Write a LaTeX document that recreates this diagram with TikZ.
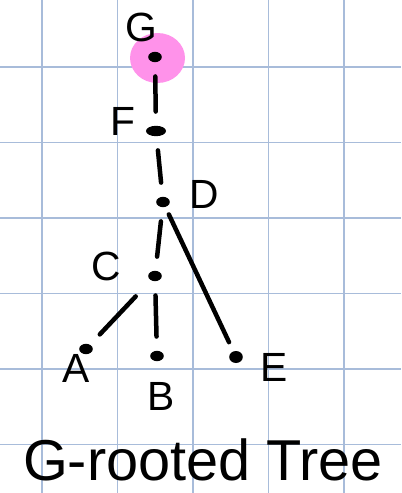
\documentclass[tikz,border=0pt]{standalone}
\usepackage{fontspec}
\setmainfont{Liberation Sans}
\usepackage{xcolor}
\usetikzlibrary{shapes.geometric}

\definecolor{gridblue}{RGB}{168,188,218}
\definecolor{rootpink}{RGB}{255,146,234}

\tikzset{
    vertex/.style={ellipse, fill=black, inner sep=0pt, minimum width=0.34cm, minimum height=0.26cm},
    edge/.style={line width=3.2pt, line cap=round, shorten <=0.35cm, shorten >=0.35cm},
    lbl/.style={font=\fontsize{29}{32}\selectfont}
}

\begin{document}
\begin{tikzpicture}[x=0.025cm, y=-0.025cm]
    \useasboundingbox (0,0) rectangle (401,493);

    % --- GRID ---
    \foreach \gx in {42,117.5,193,268.5,344}
        \draw[gridblue, line width=0.9pt] (\gx,0) -- (\gx,493);
    \foreach \gy in {67,142.5,218,293.5,369,444.5}
        \draw[gridblue, line width=0.9pt] (0,\gy) -- (401,\gy);

    % Root highlight
    \fill[rootpink] (157.5,58) ellipse (27.5 and 25);

    % --- VERTICES ---
    \node[vertex] (g) at (155,57) {};
    \node[vertex, minimum width=0.5cm] (f) at (156,131) {};
    \node[vertex] (d) at (163,202) {};
    \node[vertex] (c) at (155,276) {};
    \node[vertex] (a) at (86,349) {};
    \node[vertex] (b) at (157,356) {};
    \node[vertex, minimum height=0.3cm] (e) at (236,357) {};

    % --- EDGES ---
    \draw[edge] (g) -- (f);
    \draw[edge] (f) -- (d);
    \draw[edge] (d) -- (c);
    \draw[edge] (c) -- (b);
    \draw[edge, shorten <=0.55cm] (c) -- (a);
    \draw[edge, shorten <=0.2cm, shorten >=0.25cm] (d) -- (e);

    % --- LABELS ---
    \node[lbl] (g-lbl) at (141,27) {G};
    \node[lbl] (f-lbl) at (123,121) {F};
    \node[lbl] (d-lbl) at (204,194) {D};
    \node[lbl] (c-lbl) at (106,266) {C};
    \node[lbl] (a-lbl) at (76,368) {A};
    \node[lbl] (b-lbl) at (161,396) {B};
    \node[lbl] (e-lbl) at (274,367) {E};

    % Caption
    \node[font=\fontsize{41}{45}\selectfont] (caption) at (203,460) {G-rooted Tree};
\end{tikzpicture}
\end{document}
